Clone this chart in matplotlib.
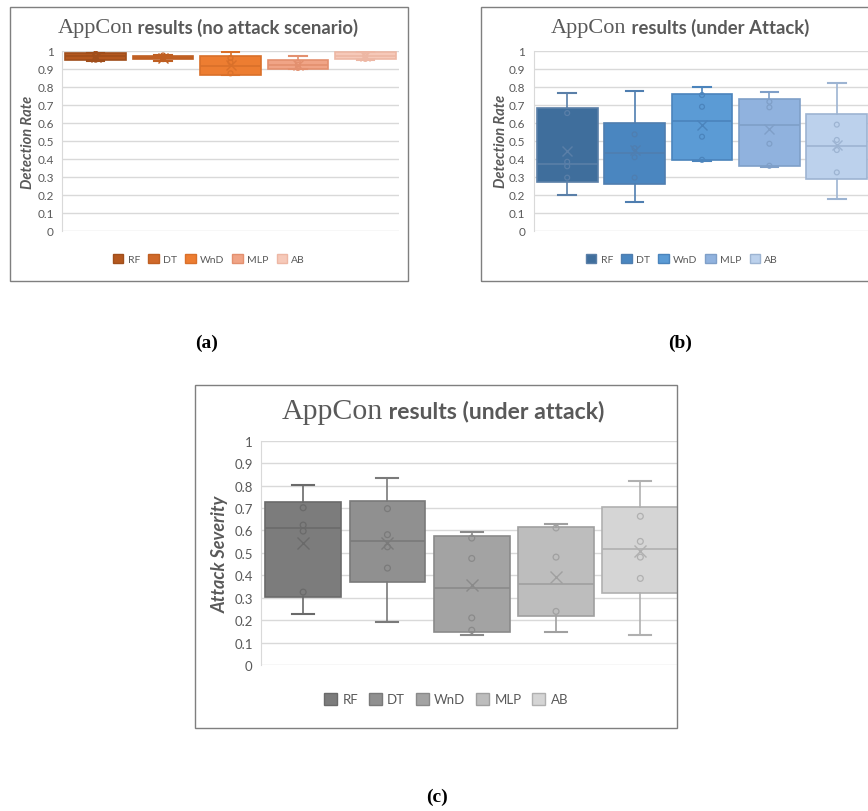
import numpy as np
import matplotlib
matplotlib.use('Agg')
import matplotlib.pyplot as plt
from matplotlib.patches import Patch, Rectangle

cats = ['RF', 'DT', 'WnD', 'MLP', 'AB']

# (a) no attack scenario - detection rate
a_low = [0.945, 0.944, 0.866, 0.900, 0.948]
a_q1 = [0.952, 0.955, 0.868, 0.902, 0.956]
a_med = [0.970, 0.963, 0.915, 0.924, 0.973]
a_q3 = [0.988, 0.972, 0.972, 0.951, 0.992]
a_high = [0.990, 0.978, 0.993, 0.970, 0.993]
a_mean = [0.968, 0.962, 0.922, 0.924, 0.972]
a_pts = [[0.985, 0.975, 0.958, 0.952], [0.975, 0.962, 0.955],
         [0.961, 0.937, 0.876], [0.936, 0.924, 0.906], [0.990, 0.972, 0.956]]

# (b) under attack - detection rate
b_low = [0.198, 0.161, 0.387, 0.357, 0.179]
b_q1 = [0.270, 0.261, 0.394, 0.359, 0.290]
b_med = [0.372, 0.434, 0.608, 0.586, 0.473]
b_q3 = [0.680, 0.597, 0.762, 0.730, 0.647]
b_high = [0.764, 0.778, 0.797, 0.773, 0.823]
b_mean = [0.445, 0.449, 0.590, 0.564, 0.479]
b_pts = [[0.654, 0.384, 0.359, 0.296], [0.536, 0.459, 0.409, 0.296],
         [0.754, 0.689, 0.523, 0.395], [0.717, 0.686, 0.484, 0.362],
         [0.590, 0.505, 0.449, 0.325]]

# (c) under attack - attack severity
c_low = [0.229, 0.193, 0.135, 0.146, 0.134]
c_q1 = [0.302, 0.371, 0.149, 0.217, 0.322]
c_med = [0.609, 0.554, 0.342, 0.363, 0.516]
c_q3 = [0.727, 0.731, 0.574, 0.614, 0.703]
c_high = [0.801, 0.835, 0.594, 0.629, 0.822]
c_mean = [0.545, 0.544, 0.355, 0.392, 0.507]
c_pts = [[0.701, 0.624, 0.597, 0.325], [0.697, 0.581, 0.527, 0.432],
         [0.566, 0.475, 0.210, 0.155], [0.611, 0.481, 0.239],
         [0.663, 0.551, 0.481, 0.386]]

a_fill = ['#B4581F', '#D0692A', '#ED7D31', '#F0A486', '#F6C9B9']
a_edge = ['#A04E1B', '#BF5F22', '#D9702A', '#E3906F', '#EDB7A4']
b_fill = ['#3F6E9C', '#4A86C0', '#5B9BD5', '#90B2DE', '#BCD1EC']
b_edge = ['#5A7FA8', '#4F7EB0', '#4B84BC', '#7F9FC8', '#9DB4D2']
c_fill = ['#7C7C7C', '#909090', '#A3A3A3', '#BDBDBD', '#D5D5D5']
c_edge = ['#6A6A6A', '#7A7A7A', '#8A8A8A', '#A0A0A0', '#B0B0B0']

W, H = 868, 812
fig = plt.figure(figsize=(W / 100, H / 100), dpi=100)
TXT = '#595959'
SANS = 'Lato'
SERIF = 'Liberation Serif'


def px_axes(x0, x1, y_top, y_bot):
    return fig.add_axes([x0 / W, 1 - y_bot / H, (x1 - x0) / W, (y_bot - y_top) / H])


def frame(x0, y0, x1, y1):
    fig.add_artist(Rectangle((x0 / W, 1 - y1 / H), (x1 - x0) / W, (y1 - y0) / H,
                             transform=fig.transFigure, fill=False,
                             edgecolor='#7F7F7F', lw=1.0))


def mixed_title(xc, yc, rest, s1, s2):
    r = fig.canvas.get_renderer()
    t1 = fig.text(0, 1 - yc / H, 'AppCon', family=SERIF, size=s1, color=TXT, va='center')
    t2 = fig.text(0, 1 - yc / H, ' ' + rest, family=SANS, weight='bold', size=s2,
                  color=TXT, va='center')
    w1 = t1.get_window_extent(r).width
    w2 = t2.get_window_extent(r).width
    x0 = xc - (w1 + w2) / 2
    t1.set_x(x0 / W)
    t2.set_x((x0 + w1) / W)


def panel(ax, low, q1, med, q3, high, mean, pts, fills, edges, ylabel, xmax,
          tick_size, lab_size, ms):
    stats = [dict(whislo=low[i], q1=q1[i], med=med[i], q3=q3[i], whishi=high[i],
                  mean=mean[i], fliers=[], label=cats[i]) for i in range(len(cats))]
    res = ax.bxp(stats, positions=range(len(cats)), widths=0.9, patch_artist=True,
                 showmeans=True, showfliers=False, capwidths=0.26, zorder=3)
    for i in range(len(cats)):
        res['boxes'][i].set_facecolor(fills[i])
        res['boxes'][i].set_edgecolor(edges[i])
        res['boxes'][i].set_linewidth(1.2)
        res['medians'][i].set_color(edges[i])
        res['medians'][i].set_linewidth(1.2)
        for k in (2 * i, 2 * i + 1):
            res['whiskers'][k].set_color(edges[i])
            res['whiskers'][k].set_linewidth(1.2)
            res['caps'][k].set_color(edges[i])
            res['caps'][k].set_linewidth(1.5)
        res['means'][i].set_marker('x')
        res['means'][i].set_markeredgecolor(edges[i])
        res['means'][i].set_markerfacecolor(edges[i])
        res['means'][i].set_markersize(ms * 2.0)
        res['means'][i].set_markeredgewidth(1.0)
        ax.scatter([i] * len(pts[i]), pts[i], s=ms ** 2, facecolor='none',
                   edgecolor=edges[i], linewidth=0.9, zorder=4)
    ax.set_xlim(-0.5, xmax)
    ax.set_ylim(0, 1)
    ax.set_yticks(np.arange(0, 1.01, 0.1))
    ax.set_yticklabels(['0'] + ['%.1f' % v for v in np.arange(0.1, 0.95, 0.1)] + ['1'])
    ax.set_xticks([])
    ax.grid(axis='y', color='#D9D9D9', lw=1.0, zorder=0)
    ax.set_axisbelow(True)
    for s in ('top', 'right', 'bottom'):
        ax.spines[s].set_visible(False)
    ax.spines['left'].set_color('#D9D9D9')
    ax.tick_params(axis='y', length=0, pad=6, labelsize=tick_size, labelcolor=TXT)
    for t in ax.get_yticklabels():
        t.set_family(SANS)
    ax.set_ylabel(ylabel, family=SANS, weight='bold', style='italic',
                  size=lab_size, color=TXT)


def legend(xc, yc, fills, edges, size):
    handles = [Patch(facecolor=fills[i], edgecolor=edges[i], label=cats[i])
               for i in range(len(cats))]
    fig.legend(handles=handles, loc='center', bbox_to_anchor=(xc / W, 1 - yc / H),
               ncol=5, frameon=False, handlelength=1.0, handleheight=1.0,
               handletextpad=0.4, columnspacing=0.8,
               prop={'family': SANS, 'size': size}, labelcolor=TXT)


# panel (a)
frame(10, 8, 408, 282)
ax_a = px_axes(62, 399, 52, 232)
panel(ax_a, a_low, a_q1, a_med, a_q3, a_high, a_mean, a_pts, a_fill, a_edge,
      'Detection Rate', 4.5, 8.5, 10.5, 3.5)
ax_a.yaxis.set_label_coords(-0.08, 0.5)
mixed_title(208, 28, 'results (no attack scenario)', 16, 13.3)
legend(209, 260, a_fill, a_edge, 7.5)

# panel (b)
frame(481, 8, 880, 282)
ax_b = px_axes(533.5, 870.5, 51.7, 232)
panel(ax_b, b_low, b_q1, b_med, b_q3, b_high, b_mean, b_pts, b_fill, b_edge,
      'Detection Rate', 4.5, 8.5, 10.5, 3.5)
ax_b.yaxis.set_label_coords(-0.075, 0.5)
mixed_title(680, 28, 'results (under Attack)', 16, 13.3)
legend(682, 260, b_fill, b_edge, 7.5)

# panel (c)
frame(195, 386, 677, 729)
ax_c = px_axes(261, 677, 441.7, 666)
panel(ax_c, c_low, c_q1, c_med, c_q3, c_high, c_mean, c_pts, c_fill, c_edge,
      'Attack Severity', 4.435, 9.5, 13, 4.2)
ax_c.yaxis.set_label_coords(-0.078, 0.5)
mixed_title(443, 412, 'results (under attack)', 21.5, 16.6)
legend(446, 700, c_fill, c_edge, 9.5)

# captions
for lab, x, y in [('(a)', 207, 343), ('(b)', 680, 343), ('(c)', 437, 797)]:
    fig.text(x / W, 1 - y / H, lab, family=SERIF, weight='bold', size=14,
             ha='center', va='center', color='black')

fig.savefig('out.png', dpi=100)
